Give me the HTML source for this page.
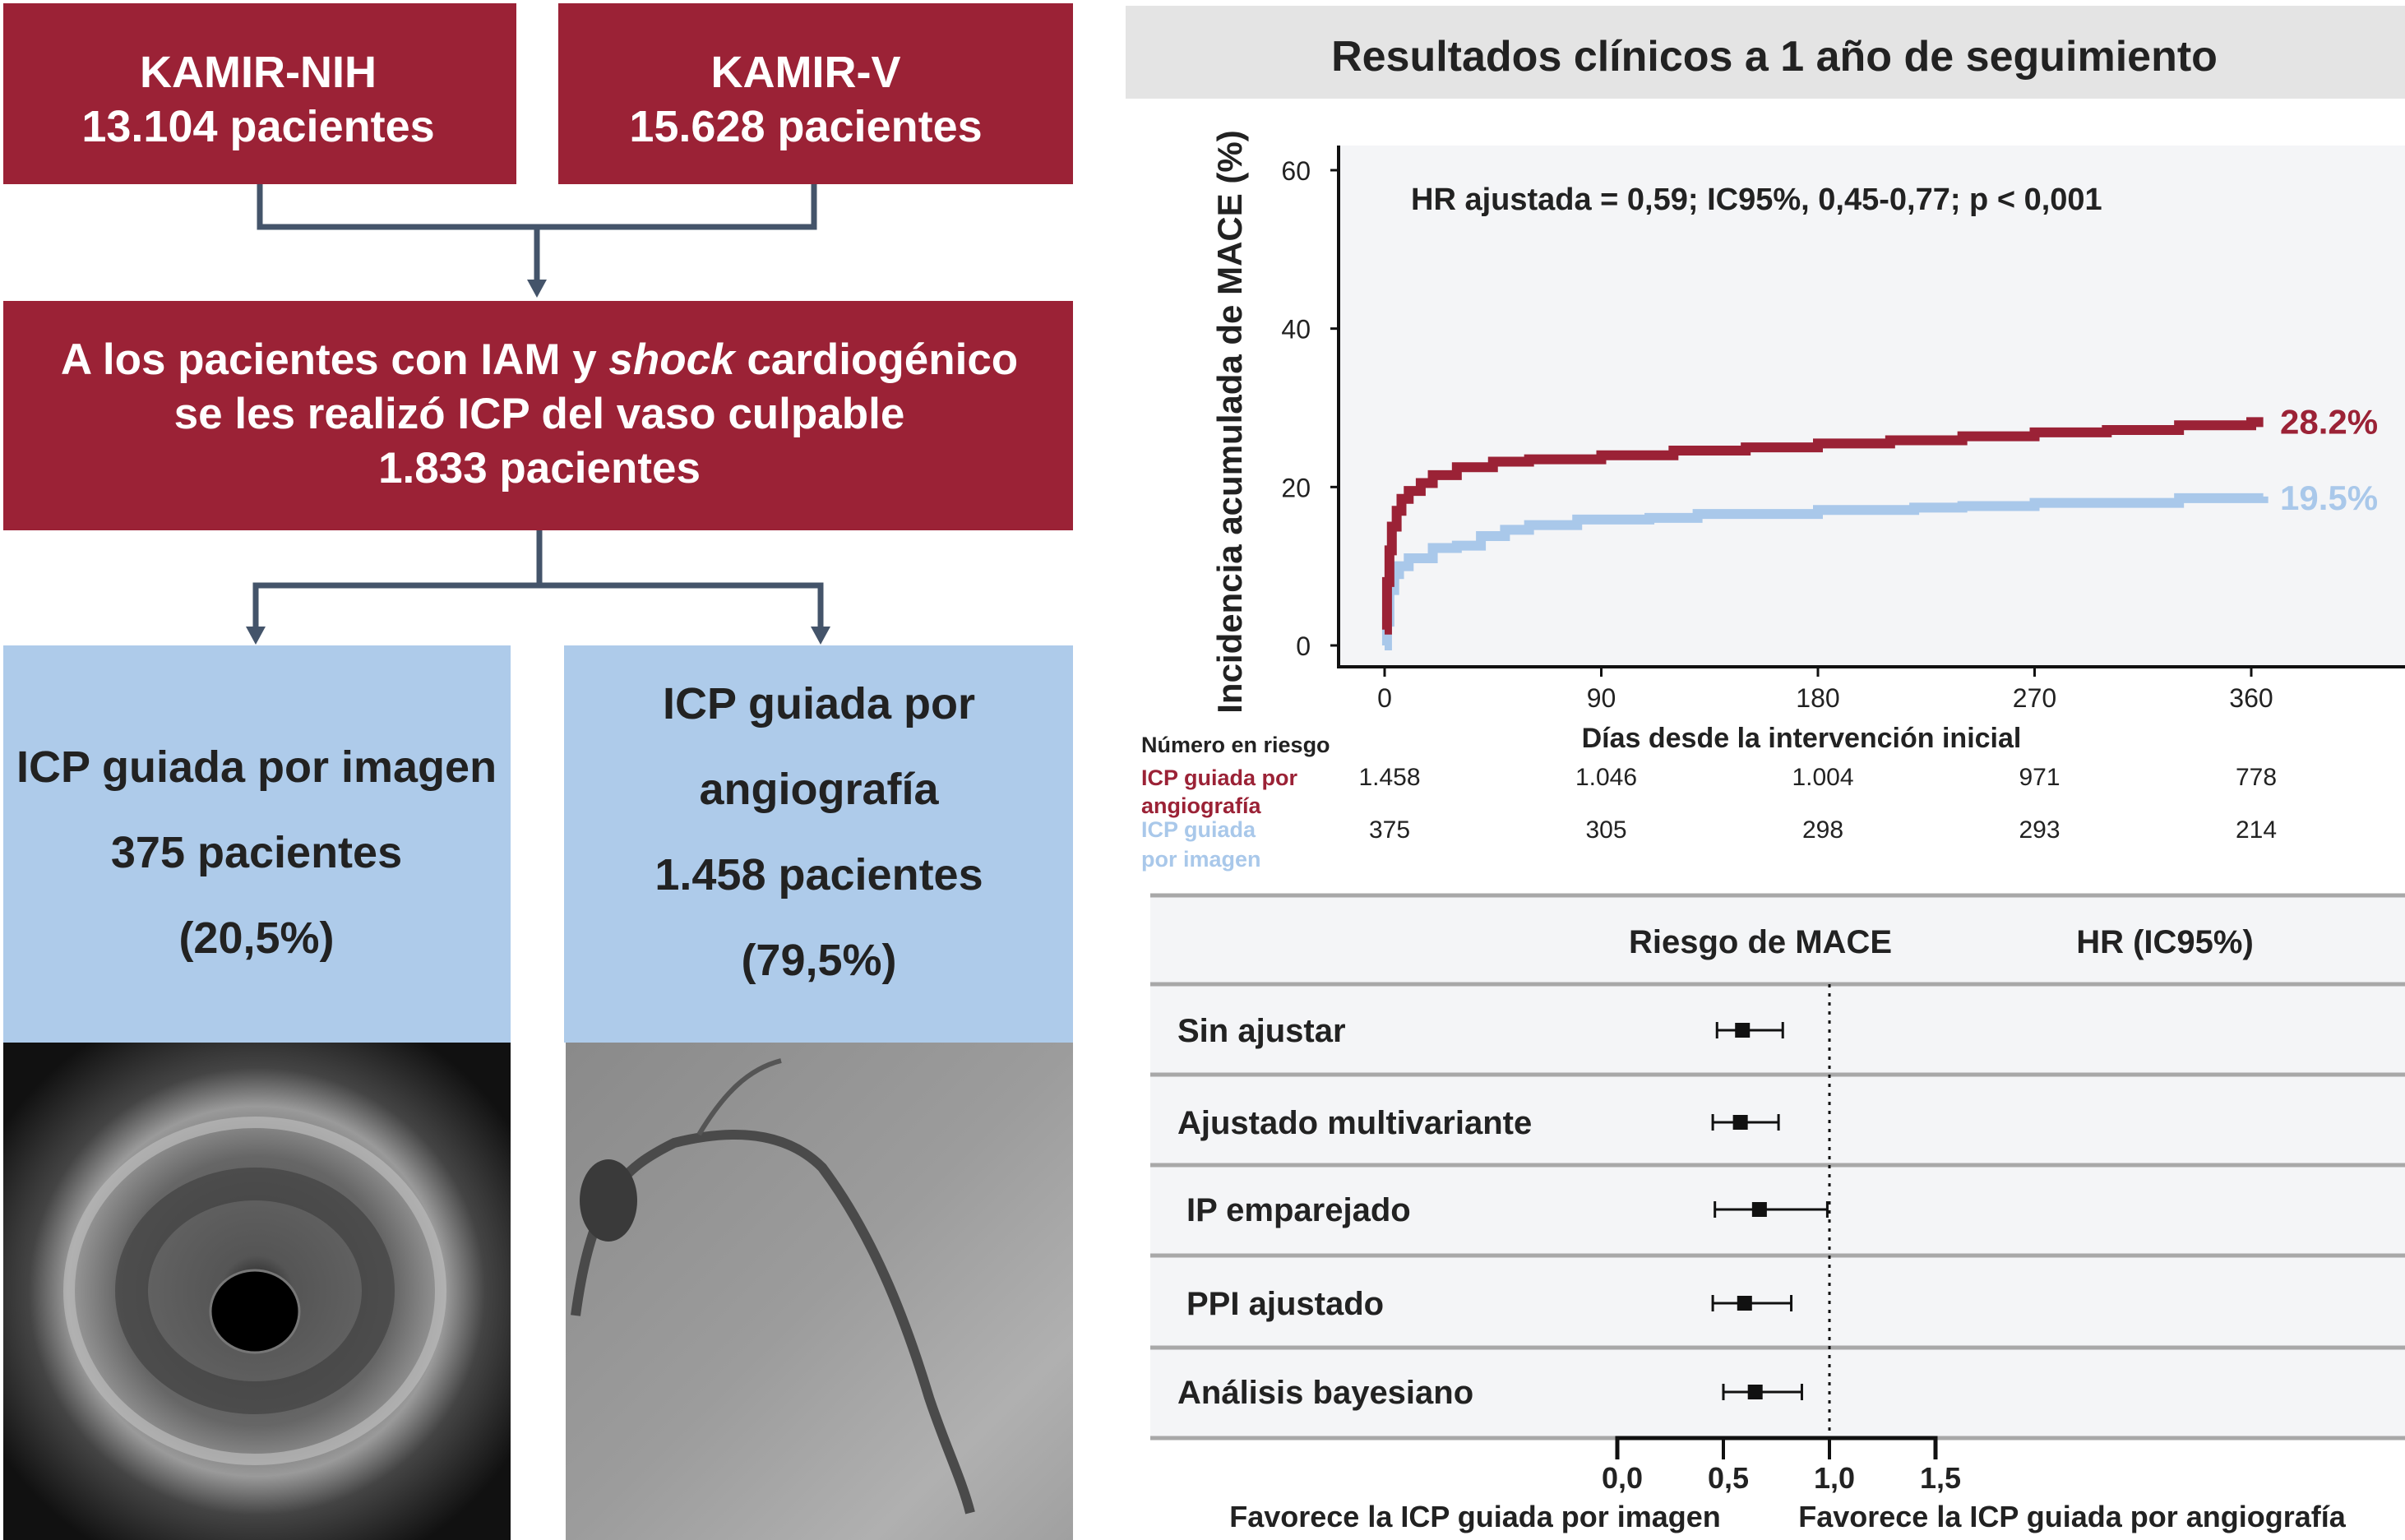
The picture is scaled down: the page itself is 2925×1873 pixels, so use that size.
<!DOCTYPE html>
<html><head><meta charset="utf-8"><style>
html,body{margin:0;padding:0;background:#fff}
svg{display:block}
text{font-family:"Liberation Sans",sans-serif}
</style></head><body>
<svg id="page" width="2925" height="1873" viewBox="0 0 2925 1873" xmlns="http://www.w3.org/2000/svg">
<defs>
<radialGradient id="ivus" cx="0.5" cy="0.5" r="0.6">
<stop offset="0" stop-color="#1a1a1a"/><stop offset="0.12" stop-color="#555"/><stop offset="0.45" stop-color="#666"/><stop offset="0.62" stop-color="#9a9a9a"/><stop offset="0.75" stop-color="#444"/><stop offset="1" stop-color="#111"/>
</radialGradient>
<linearGradient id="angio" x1="0" y1="0" x2="1" y2="1">
<stop offset="0" stop-color="#8a8a8a"/><stop offset="0.5" stop-color="#9c9c9c"/><stop offset="0.8" stop-color="#b0b0b0"/><stop offset="1" stop-color="#a0a0a0"/>
</linearGradient>
</defs>

<g>
<rect x="4" y="4" width="624" height="220" fill="#9b2236"/>
<text x="314" y="106" text-anchor="middle" font-size="54" font-weight="bold" fill="#fff">KAMIR-NIH</text>
<text x="314" y="172" text-anchor="middle" font-size="54" font-weight="bold" fill="#fff">13.104 pacientes</text>
<rect x="679" y="4" width="626" height="220" fill="#9b2236"/>
<text x="980" y="106" text-anchor="middle" font-size="54" font-weight="bold" fill="#fff">KAMIR-V</text>
<text x="980" y="172" text-anchor="middle" font-size="54" font-weight="bold" fill="#fff">15.628 pacientes</text>
<g stroke="#44546a" stroke-width="7" fill="none">
<path d="M316 224 V276 H990 V224"/><path d="M653 276 V345"/>
</g>
<polygon points="641,340 665,340 653,362" fill="#44546a"/>
<rect x="4" y="366" width="1301" height="279" fill="#9b2236"/>
<text x="656" y="455" text-anchor="middle" font-size="53" font-weight="bold" fill="#fff">A los pacientes con IAM y <tspan font-style="italic">shock</tspan> cardiogénico</text>
<text x="656" y="521" text-anchor="middle" font-size="53" font-weight="bold" fill="#fff">se les realizó ICP del vaso culpable</text>
<text x="656" y="587" text-anchor="middle" font-size="53" font-weight="bold" fill="#fff">1.833 pacientes</text>
<g stroke="#44546a" stroke-width="7" fill="none">
<path d="M656 645 V712"/><path d="M311 765 V712 H998 V765"/>
</g>
<polygon points="299,762 323,762 311,784" fill="#44546a"/>
<polygon points="986,762 1010,762 998,784" fill="#44546a"/>
<rect x="4" y="785" width="617" height="483" fill="#aecbea"/>
<text x="312" y="951" text-anchor="middle" font-size="54" font-weight="bold" fill="#222">ICP guiada por imagen</text>
<text x="312" y="1055" text-anchor="middle" font-size="54" font-weight="bold" fill="#222">375 pacientes</text>
<text x="312" y="1159" text-anchor="middle" font-size="54" font-weight="bold" fill="#222">(20,5%)</text>
<rect x="686" y="785" width="619" height="483" fill="#aecbea"/>
<text x="996" y="874" text-anchor="middle" font-size="54" font-weight="bold" fill="#222">ICP guiada por</text>
<text x="996" y="978" text-anchor="middle" font-size="54" font-weight="bold" fill="#222">angiografía</text>
<text x="996" y="1082" text-anchor="middle" font-size="54" font-weight="bold" fill="#222">1.458 pacientes</text>
<text x="996" y="1186" text-anchor="middle" font-size="54" font-weight="bold" fill="#222">(79,5%)</text>
<g>
<rect x="4" y="1268" width="617" height="605" fill="url(#ivus)"/>
<ellipse cx="310" cy="1570" rx="226" ry="205" fill="none" stroke="#bbb" stroke-width="14" opacity="0.7"/>
<ellipse cx="310" cy="1570" rx="150" ry="130" fill="none" stroke="#333" stroke-width="40" opacity="0.5"/>
<ellipse cx="310" cy="1595" rx="54" ry="50" fill="#000" stroke="#777" stroke-width="3"/>
</g>
<g>
<rect x="688" y="1268" width="617" height="605" fill="url(#angio)"/>
<path d="M700 1600 C720 1450 760 1420 820 1390 C900 1370 960 1380 1000 1420 C1060 1500 1100 1600 1130 1700 C1150 1760 1170 1800 1180 1840" fill="none" stroke="#4a4a4a" stroke-width="12"/>
<ellipse cx="740" cy="1460" rx="35" ry="50" fill="#3a3a3a"/>
<path d="M850 1380 C880 1330 910 1300 950 1290" fill="none" stroke="#555" stroke-width="6"/>
</g>
</g>

<rect x="1369" y="7" width="1556" height="113" fill="#e4e4e4"/>
<text x="2158" y="86" text-anchor="middle" font-size="52" font-weight="bold" fill="#222">Resultados clínicos a 1 año de seguimiento</text>
<rect x="1628" y="177" width="1297" height="634" fill="#f4f5f7"/>
<g id="km"></g>
<text x="1716" y="255" font-size="38" font-weight="bold" fill="#222">HR ajustada = 0,59; IC95%, 0,45-0,77; p &lt; 0,001</text>
<text transform="translate(1510,513) rotate(-90)" text-anchor="middle" font-size="42" font-weight="bold" fill="#222">Incidencia acumulada de MACE (%)</text>
<text x="2191" y="909" text-anchor="middle" font-size="34" font-weight="bold" fill="#222">Días desde la intervención inicial</text>
<text x="1388" y="915" font-size="27" font-weight="bold" fill="#222">Número en riesgo</text>
<text x="1388" y="955" font-size="27" font-weight="bold" fill="#9b2236">ICP guiada por</text>
<text x="1388" y="989" font-size="27" font-weight="bold" fill="#9b2236">angiografía</text>
<text x="1388" y="1018" font-size="27" font-weight="bold" fill="#a9c8ea">ICP guiada</text>
<text x="1388" y="1054" font-size="27" font-weight="bold" fill="#a9c8ea">por imagen</text>

<rect x="1399" y="1089" width="1526" height="660" fill="#f4f5f7"/>
<text x="2141" y="1159" text-anchor="middle" font-size="40" font-weight="bold" fill="#222">Riesgo de MACE</text>
<text x="2633" y="1159" text-anchor="middle" font-size="40" font-weight="bold" fill="#222">HR (IC95%)</text>
<g id="forest"></g>
<text x="1794" y="1857" text-anchor="middle" font-size="36" font-weight="bold" fill="#222">Favorece la ICP guiada por imagen</text>
<text x="2520" y="1857" text-anchor="middle" font-size="36" font-weight="bold" fill="#222">Favorece la ICP guiada por angiografía</text>
</svg>
<script>
const NS="http://www.w3.org/2000/svg";
const yTicks=[0,20,40,60];
const xTicks=[0,90,180,270,360];
const redDays=[0,1,2,3,5,7,10,15,20,30,45,60,90,120,150,180,210,240,270,300,330,360,365];
const redVals=[2,8,12,15,17,18.5,19.5,20.5,21.5,22.5,23.2,23.5,24,24.6,25,25.5,25.9,26.4,26.9,27.2,27.8,28.2,28.2];
const blueDays=[0,1,2,4,6,10,20,30,40,50,60,80,110,130,180,220,240,270,330,365];
const blueVals=[0,3,7,9,10,11,12.3,12.6,13.8,14.6,15.2,15.9,16.1,16.6,17.1,17.4,17.6,18,18.6,18.8];
const riskRed=["1.458","1.046","1.004","971","778"];
const riskBlue=["375","305","298","293","214"];
const endLabels=["28.2%","19.5%"];
const fLabels=["Sin ajustar","Ajustado multivariante","IP emparejado","PPI ajustado","Análisis bayesiano"];
const fEst=[0.59,0.58,0.67,0.60,0.65];
const fLo=[0.47,0.45,0.46,0.45,0.50];
const fHi=[0.78,0.76,0.99,0.82,0.87];
const fTicks=["0,0","0,5","1,0","1,5"];
const fTickVals=[0,0.5,1.0,1.5];

const xs=d=>1684+d*(2738-1684)/360;
const ys=v=>785-v*(785-207)/60;
function mk(tag,attrs,parent){const e=document.createElementNS(NS,tag);for(const k in attrs)e.setAttribute(k,attrs[k]);parent.appendChild(e);return e;}
const km=document.getElementById('km');
let ax=mk('path',{d:`M1628 177 V811 H2925`,stroke:'#111','stroke-width':4,fill:'none'},km);


yTicks.forEach(v=>{
 const t=mk('line',{x1:1618,x2:1628,y1:ys(v),y2:ys(v),stroke:'#111','stroke-width':3},km);
 
 
 const l=mk('text',{x:1594,y:ys(v)+12,'text-anchor':'end','font-size':32,fill:'#222'},km);l.textContent=v;
 
 
});
xTicks.forEach((d,i)=>{
 const t=mk('line',{x1:xs(d),x2:xs(d),y1:811,y2:823,stroke:'#111','stroke-width':3},km);
 
 
 const l=mk('text',{x:xs(d),y:860,'text-anchor':'middle','font-size':32,fill:'#222'},km);l.textContent=d;
 
 
 const r1=mk('text',{x:xs(d)+6,y:955,'text-anchor':'middle','font-size':30,fill:'#222'},km);r1.textContent=riskRed[i];
 
 
 const r2=mk('text',{x:xs(d)+6,y:1019,'text-anchor':'middle','font-size':30,fill:'#222'},km);r2.textContent=riskBlue[i];
 
 
});
function step(days,vals){let d=`M${xs(days[0])} ${ys(vals[0])}`;for(let i=1;i<days.length;i++){d+=` H${xs(days[i])} V${ys(vals[i])}`;}return d;}
const bl=mk('path',{d:step(blueDays,blueVals),stroke:'#a9c8ea','stroke-width':12,fill:'none'},km);


const rd=mk('path',{d:step(redDays,redVals),stroke:'#9b2236','stroke-width':12,fill:'none'},km);


const e1=mk('text',{x:2773,y:ys(redVals[redVals.length-1])+14,'font-size':42,'font-weight':'bold',fill:'#9b2236'},km);e1.textContent=endLabels[0];


const e2=mk('text',{x:2773,y:ys(blueVals[blueVals.length-1])+16,'font-size':42,'font-weight':'bold',fill:'#a9c8ea'},km);e2.textContent=endLabels[1];



const fx=v=>1967+v*(2354-1967)/1.5;
const fo=document.getElementById('forest');
const lineYs=[1089,1197,1307,1417,1527,1639,1749];
lineYs.forEach(y=>{const l=mk('line',{x1:1399,x2:2925,y1:y,y2:y,stroke:'#a8a8a8','stroke-width':5},fo);
 
 });
const ref=mk('line',{x1:fx(1),x2:fx(1),y1:1197,y2:1749,stroke:'#111','stroke-width':3,'stroke-dasharray':'4 7'},fo);


const rowY=[1253,1365,1471,1585,1693];
fLabels.forEach((lab,i)=>{
 const y=rowY[i];
 const t=mk('text',{x:(i==2||i==3)?1443:1432,y:y+14,'font-size':40,'font-weight':'bold',fill:'#222'},fo);t.textContent=lab;
 
 
 const ci=mk('path',{d:`M${fx(fLo[i])} ${y-10} V${y+10} M${fx(fLo[i])} ${y} H${fx(fHi[i])} M${fx(fHi[i])} ${y-10} V${y+10}`,stroke:'#111','stroke-width':3,fill:'none'},fo);
 
 
 const pt=mk('rect',{x:fx(fEst[i])-9,y:y-9,width:18,height:18,fill:'#111'},fo);
 
 
});
const fa=mk('path',{d:`M${fx(0)} 1775 V1749 H${fx(1.5)} V1775`,stroke:'#111','stroke-width':5,fill:'none'},fo);


fTickVals.forEach((v,i)=>{
 const tk=mk('line',{x1:fx(v),x2:fx(v),y1:1749,y2:1775,stroke:'#111','stroke-width':4},fo);
 
 
 const l=mk('text',{x:fx(v)+6,y:1810,'text-anchor':'middle','font-size':36,'font-weight':'bold',fill:'#222'},fo);l.textContent=fTicks[i];
 
 
});
</script>
</body></html>
